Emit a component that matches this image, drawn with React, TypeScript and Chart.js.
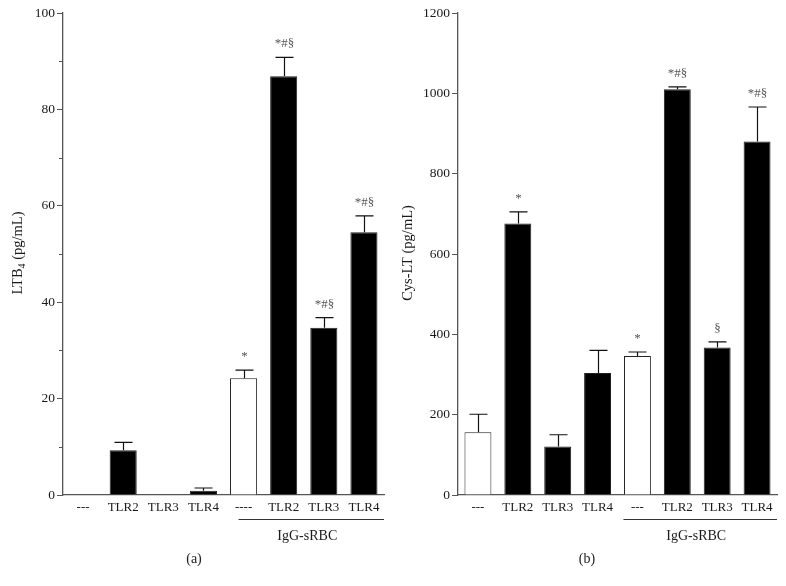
import React, { useEffect, useRef } from "react";
import { Chart, registerables } from "chart.js";

Chart.register(...registerables);

const categoriesA = ["---", "TLR2", "TLR3", "TLR4", "----", "TLR2", "TLR3", "TLR4"];
const ltb4Values = [0, 9.3, 0.1, 0.9, 24.2, 86.9, 34.7, 54.5];
const ltb4Errors = [0, 1.6, 0, 0.55, 1.7, 3.9, 2.1, 3.4];
const ltb4Marks = ["", "", "", "", "*", "*#§", "*#§", "*#§"];
const ltb4Ticks = [0, 20, 40, 60, 80, 100];

const categoriesB = ["---", "TLR2", "TLR3", "TLR4", "---", "TLR2", "TLR3", "TLR4"];
const cysValues = [156, 676, 121, 304, 346, 1010, 367, 880];
const cysErrors = [45, 29, 29, 56, 10, 6, 14, 86];
const cysMarks = ["", "*", "", "", "*", "*#§", "§", "*#§"];
const cysTicks = [0, 200, 400, 600, 800, 1000, 1200];

const whiteBars = [0, 4];
const groupLabel = "IgG-sRBC";
const FONT = "'Liberation Serif', 'Times New Roman', serif";
const AXIS = "#555";
const TEXT = "#1a1a1a";

type Cfg = {
  labels: string[];
  values: number[];
  errors: number[];
  marks: string[];
  max: number;
  step: number;
  ticks: number[];
  minor: boolean;
  titleMain: string;
  titleSub: string;
  titleRest: string;
  caption: string;
  axisWidth: number;
  titleX: number;
  lineStartOffset: number;
};

function makeChart(canvas: HTMLCanvasElement, c: Cfg) {
  const overlay = {
    id: "overlay",
    afterDatasetsDraw(chart: any) {
      const ctx = chart.ctx as CanvasRenderingContext2D;
      const x = chart.scales.x;
      const y = chart.scales.y;
      const area = chart.chartArea;
      ctx.save();
      // minor ticks
      if (c.minor) {
        ctx.strokeStyle = AXIS;
        ctx.lineWidth = 1;
        for (let v = c.step / 2; v < c.max; v += c.step) {
          const py = Math.round(y.getPixelForValue(v)) + 0.5;
          ctx.beginPath();
          ctx.moveTo(area.left - 4, py);
          ctx.lineTo(area.left, py);
          ctx.stroke();
        }
      }
      // error bars
      ctx.strokeStyle = "#111";
      ctx.lineWidth = 1.2;
      c.values.forEach((v, i) => {
        const e = c.errors[i];
        const cx = Math.round(x.getPixelForValue(i)) + 0.5;
        const top = y.getPixelForValue(v + e);
        if (e > 0) {
          const base = y.getPixelForValue(v);
          ctx.beginPath();
          ctx.moveTo(cx, base);
          ctx.lineTo(cx, top);
          ctx.moveTo(cx - 9, top);
          ctx.lineTo(cx + 9, top);
          ctx.stroke();
        }
        if (c.marks[i]) {
          ctx.fillStyle = "#555";
          ctx.font = `13px ${FONT}`;
          ctx.textAlign = "center";
          ctx.textBaseline = "alphabetic";
          ctx.fillText(c.marks[i], cx, top - 10);
        }
      });
      // group bracket
      const ly = 519.5;
      const lx0 = x.getPixelForValue(4) + c.lineStartOffset;
      const lx1 = area.right;
      ctx.strokeStyle = "#333";
      ctx.lineWidth = 1;
      ctx.beginPath();
      ctx.moveTo(lx0, ly);
      ctx.lineTo(lx1, ly);
      ctx.stroke();
      ctx.fillStyle = TEXT;
      ctx.font = `14px ${FONT}`;
      ctx.textAlign = "center";
      ctx.textBaseline = "middle";
      ctx.fillText(groupLabel, (lx0 + lx1) / 2 - 4, 536);
      // caption
      ctx.fillText(c.caption, 194, 559);
      // y title
      ctx.translate(c.titleX, 253);
      ctx.rotate(-Math.PI / 2);
      const mainFont = `14.5px ${FONT}`;
      const subFont = `10px ${FONT}`;
      ctx.font = mainFont;
      const w1 = ctx.measureText(c.titleMain).width;
      const w3 = ctx.measureText(c.titleRest).width;
      ctx.font = subFont;
      const w2 = c.titleSub ? ctx.measureText(c.titleSub).width : 0;
      let sx = -(w1 + w2 + w3) / 2;
      ctx.textAlign = "left";
      ctx.textBaseline = "alphabetic";
      ctx.font = mainFont;
      ctx.fillText(c.titleMain, sx, 5);
      sx += w1;
      if (c.titleSub) {
        ctx.font = subFont;
        ctx.fillText(c.titleSub, sx, 8);
        sx += w2;
      }
      ctx.font = mainFont;
      ctx.fillText(c.titleRest, sx, 5);
      ctx.restore();
    },
  };

  return new Chart(canvas, {
    type: "bar",
    data: {
      labels: c.labels,
      datasets: [
        {
          data: c.values,
          backgroundColor: c.values.map((_, i) => (whiteBars.includes(i) ? "#ffffff" : "#000000")),
          borderColor: "#222",
          borderWidth: 1,
          barPercentage: 0.675,
          categoryPercentage: 1,
        },
      ],
    },
    options: {
      responsive: false,
      animation: false,
      layout: { padding: { top: 13, right: 9, left: 0, bottom: 0 } },
      plugins: { legend: { display: false }, tooltip: { enabled: false } },
      scales: {
        x: {
          grid: { display: false, drawTicks: false },
          border: { display: true, color: AXIS, width: 1.3 },
          ticks: { color: TEXT, font: { family: FONT, size: 13 }, padding: 5, maxRotation: 0 },
          afterFit: (s: any) => {
            s.height = 91;
          },
        },
        y: {
          min: 0,
          max: c.max,
          afterBuildTicks: (s: any) => {
            s.ticks = c.ticks.map((v) => ({ value: v }));
          },
          grid: { drawOnChartArea: false, drawTicks: true, tickLength: 6, color: AXIS },
          border: { display: true, color: AXIS, width: 1.3 },
          ticks: {
            color: TEXT,
            font: { family: FONT, size: 13.5 },
            padding: 2,
            callback: (v: any) => String(v),
          },
          afterFit: (s: any) => {
            s.width = c.axisWidth;
          },
        },
      },
    },
    plugins: [overlay],
  });
}

export default function App() {
  const refA = useRef<HTMLCanvasElement>(null);
  const refB = useRef<HTMLCanvasElement>(null);
  useEffect(() => {
    const a = makeChart(refA.current!, {
      labels: categoriesA,
      values: ltb4Values,
      errors: ltb4Errors,
      marks: ltb4Marks,
      max: 100,
      step: 20,
      ticks: ltb4Ticks,
      minor: true,
      titleMain: "LTB",
      titleSub: "4",
      titleRest: " (pg/mL)",
      caption: "(a)",
      axisWidth: 63,
      titleX: 17,
      lineStartOffset: -5,
    });
    const b = makeChart(refB.current!, {
      labels: categoriesB,
      values: cysValues,
      errors: cysErrors,
      marks: cysMarks,
      max: 1200,
      step: 200,
      ticks: cysTicks,
      minor: false,
      titleMain: "Cys-LT (pg/mL)",
      titleSub: "",
      titleRest: "",
      caption: "(b)",
      axisWidth: 65,
      titleX: 14,
      lineStartOffset: -14,
    });
    return () => {
      a.destroy();
      b.destroy();
    };
  }, []);
  return (
    <div style={{ position: "absolute", left: 0, top: 0, width: 786, height: 586, background: "#fff" }}>
      <canvas ref={refA} width={393} height={586} style={{ position: "absolute", left: 0, top: 0 }} />
      <canvas ref={refB} width={393} height={586} style={{ position: "absolute", left: 393, top: 0 }} />
    </div>
  );
}
